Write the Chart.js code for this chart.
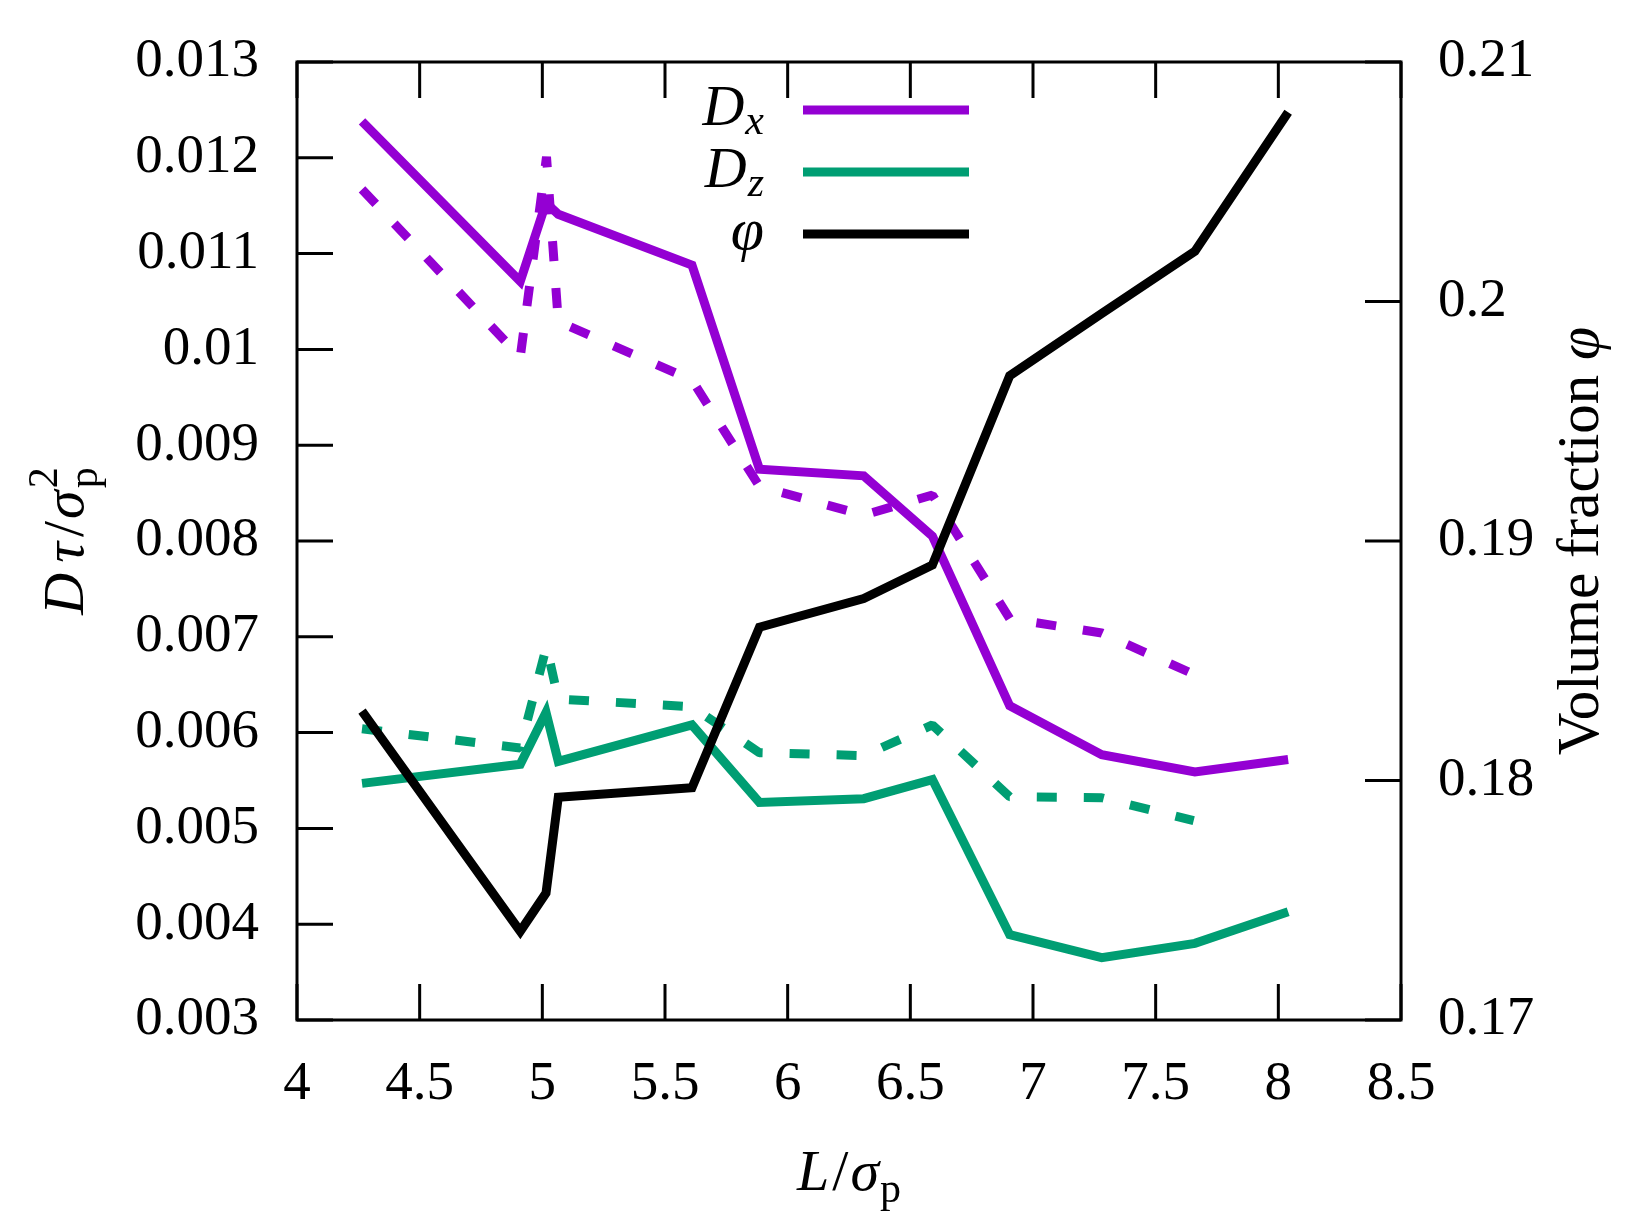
<!DOCTYPE html>
<html>
<head>
<meta charset="utf-8">
<script src="https://cdn.jsdelivr.net/npm/chart.js@4.4.1/dist/chart.umd.min.js"></script>
<style>
  html, body { margin: 0; padding: 0; background: #fff; }
  canvas { display: block; }
</style>
</head>
<body>
<canvas id="chart" width="1625" height="1219"></canvas>
<script>
// box length L/sigma_p of the runs (solid lines)
const lSolid = [4.265, 4.91, 5.015, 5.065, 5.61, 5.885, 6.31, 6.59, 6.905, 7.28, 7.66, 8.04];
const dxSolid = [0.01238, 0.01071, 0.01153, 0.01141, 0.01088, 0.00875, 0.00868, 0.00805, 0.00628, 0.00577, 0.00559, 0.00572];
const dzSolid = [0.00547, 0.00567, 0.00621, 0.00570, 0.00608, 0.00527, 0.00531, 0.00551, 0.00389, 0.00365, 0.00380, 0.00413];
const phiSolid = [0.1829, 0.1737, 0.1753, 0.1793, 0.1797, 0.1864, 0.1876, 0.1890, 0.1969, 0.1995, 0.2021, 0.2079];

// dashed lines (second set, no point at L = 8)
const lDashed = [4.265, 4.91, 5.017, 5.065, 5.61, 5.885, 6.31, 6.59, 6.905, 7.28, 7.655];
const dxDashed = [0.01167, 0.00992, 0.01201, 0.01029, 0.00968, 0.00857, 0.00827, 0.00848, 0.00719, 0.00704, 0.00661];
const dzDashed = [0.00604, 0.00584, 0.00690, 0.00635, 0.00627, 0.00579, 0.00576, 0.00608, 0.00533, 0.00532, 0.00508];

// tick values
const xTicks = [4, 4.5, 5, 5.5, 6, 6.5, 7, 7.5, 8, 8.5];
const leftTicks = [0.003, 0.004, 0.005, 0.006, 0.007, 0.008, 0.009, 0.01, 0.011, 0.012, 0.013];
const rightTicks = [0.17, 0.18, 0.19, 0.2, 0.21];

const PURPLE = '#9400d3';
const GREEN = '#009e73';
const FAMILY = '"Liberation Serif", "DejaVu Serif", serif';
const TICK = 36;

const pts = (xs, ys) => xs.map((x, i) => ({ x: x, y: ys[i] }));
const fnt = (size, italic) => (italic ? 'italic ' : '') + size + 'px ' + FAMILY;

// draw a row of text pieces: {t, size, italic, dy, gap, adv}
function drawRun(ctx, pieces, x, y, align) {
  let w = 0;
  pieces.forEach(p => {
    ctx.font = fnt(p.size, p.italic);
    p.w = ctx.measureText(p.t).width;
    if (p.adv !== false) w += p.w + (p.gap || 0);
  });
  let cx = align === 'right' ? x - w : align === 'center' ? x - w / 2 : x;
  ctx.textAlign = 'left';
  ctx.textBaseline = 'alphabetic';
  pieces.forEach(p => {
    ctx.font = fnt(p.size, p.italic);
    ctx.fillText(p.t, cx, y + (p.dy || 0));
    if (p.adv !== false) cx += p.w + (p.gap || 0);
  });
}

const framePlugin = {
  id: 'frame',
  beforeDraw(chart) {
    const ctx = chart.ctx;
    ctx.save();
    ctx.fillStyle = '#fff';
    ctx.fillRect(0, 0, chart.width, chart.height);
    ctx.restore();
  },
  afterDraw(chart) {
    const { ctx, chartArea: a, scales } = chart;
    ctx.save();
    ctx.strokeStyle = '#000';
    ctx.lineWidth = 3;
    ctx.lineCap = 'butt';
    ctx.strokeRect(a.left, a.top, a.right - a.left, a.bottom - a.top);

    // inward ticks
    ctx.beginPath();
    xTicks.forEach(v => {
      const px = scales.x.getPixelForValue(v);
      ctx.moveTo(px, a.bottom); ctx.lineTo(px, a.bottom - TICK);
      ctx.moveTo(px, a.top); ctx.lineTo(px, a.top + TICK);
    });
    leftTicks.forEach(v => {
      const py = scales.y.getPixelForValue(v);
      ctx.moveTo(a.left, py); ctx.lineTo(a.left + TICK, py);
    });
    rightTicks.forEach(v => {
      const py = scales.yR.getPixelForValue(v);
      ctx.moveTo(a.right, py); ctx.lineTo(a.right - TICK, py);
    });
    ctx.stroke();

    // legend
    ctx.fillStyle = '#000';
    const rows = [
      { color: PURPLE, text: [{ t: 'D', size: 58, italic: true, gap: 1 }, { t: 'x', size: 42, italic: true, dy: 9 }] },
      { color: GREEN, text: [{ t: 'D', size: 58, italic: true, gap: 1 }, { t: 'z', size: 42, italic: true, dy: 9 }] },
      { color: '#000', text: [{ t: '\u03c6', size: 60, italic: true }] }
    ];
    rows.forEach((r, i) => {
      const ly = 110 + 62 * i;
      drawRun(ctx, r.text, 764, ly + 15, 'right');
      ctx.strokeStyle = r.color;
      ctx.lineWidth = 9;
      ctx.beginPath();
      ctx.moveTo(803, ly); ctx.lineTo(969, ly);
      ctx.stroke();
    });

    // x title
    drawRun(ctx, [
      { t: 'L', size: 58, italic: true, gap: 3 },
      { t: '/', size: 58, gap: 2 },
      { t: '\u03c3', size: 58, italic: true, gap: 1 },
      { t: 'p', size: 42, dy: 12 }
    ], (a.left + a.right) / 2, 1190, 'center');

    // left title
    ctx.save();
    ctx.translate(83, (a.top + a.bottom) / 2);
    ctx.rotate(-Math.PI / 2);
    drawRun(ctx, [
      { t: 'D', size: 58, italic: true, gap: 10 },
      { t: '\u03c4', size: 58, italic: true, gap: 5 },
      { t: '/', size: 58, gap: 2 },
      { t: '\u03c3', size: 58, italic: true, gap: 2 },
      { t: '2', size: 42, dy: -26, adv: false },
      { t: 'p', size: 42, dy: 14 }
    ], 0, 0, 'center');
    ctx.restore();

    // right title
    ctx.save();
    ctx.translate(1598, (a.top + a.bottom) / 2);
    ctx.rotate(-Math.PI / 2);
    drawRun(ctx, [
      { t: 'Volume fraction ', size: 59 },
      { t: '\u03c6', size: 60, italic: true }
    ], 0, 0, 'center');
    ctx.restore();

    ctx.restore();
  }
};

const tickFont = { family: FAMILY, size: 55 };
const noPad = s => { s.paddingTop = 0; s.paddingBottom = 0; };

new Chart(document.getElementById('chart'), {
  type: 'line',
  data: {
    datasets: [
      { label: 'phi', data: pts(lSolid, phiSolid), yAxisID: 'yR', borderColor: '#000', order: 0 },
      { label: 'Dx', data: pts(lSolid, dxSolid), yAxisID: 'y', borderColor: PURPLE, order: 1 },
      { label: 'Dz', data: pts(lSolid, dzSolid), yAxisID: 'y', borderColor: GREEN, order: 2 },
      { label: 'Dx dashed', data: pts(lDashed, dxDashed), yAxisID: 'y', borderColor: PURPLE, borderDash: [20, 27], borderJoinStyle: 'bevel', order: 3 },
      { label: 'Dz dashed', data: pts(lDashed, dzDashed), yAxisID: 'y', borderColor: GREEN, borderDash: [20, 27], borderJoinStyle: 'bevel', order: 4 }
    ]
  },
  options: {
    responsive: false,
    animation: false,
    devicePixelRatio: 1,
    layout: { padding: { top: 62, left: 0, right: 0, bottom: 0 } },
    elements: {
      point: { radius: 0, hoverRadius: 0 },
      line: { borderWidth: 9, tension: 0, borderJoinStyle: 'miter', borderCapStyle: 'butt', fill: false }
    },
    plugins: { legend: { display: false }, tooltip: { enabled: false } },
    scales: {
      x: {
        type: 'linear', min: 4, max: 8.5,
        afterFit: s => { s.height = 199; s.paddingLeft = 0; s.paddingRight = 0; },
        afterBuildTicks: s => { s.ticks = xTicks.map(v => ({ value: v })); },
        grid: { display: false, drawTicks: false },
        border: { display: false },
        ticks: { padding: 32, font: tickFont, color: '#000', autoSkip: false, maxRotation: 0, minRotation: 0, callback: v => String(v) }
      },
      y: {
        type: 'linear', position: 'left', min: 0.003, max: 0.013,
        afterFit: s => { s.width = 297; noPad(s); },
        afterBuildTicks: s => { s.ticks = leftTicks.map(v => ({ value: v })); },
        grid: { display: false, drawTicks: false },
        border: { display: false },
        ticks: { padding: 38, font: tickFont, color: '#000', autoSkip: false, callback: v => String(v) }
      },
      yR: {
        type: 'linear', position: 'right', min: 0.17, max: 0.21,
        afterFit: s => { s.width = 224; noPad(s); },
        afterBuildTicks: s => { s.ticks = rightTicks.map(v => ({ value: v })); },
        grid: { display: false, drawTicks: false },
        border: { display: false },
        ticks: { padding: 37, font: tickFont, color: '#000', autoSkip: false, callback: v => String(v) }
      }
    }
  },
  plugins: [framePlugin]
});
</script>
</body>
</html>
